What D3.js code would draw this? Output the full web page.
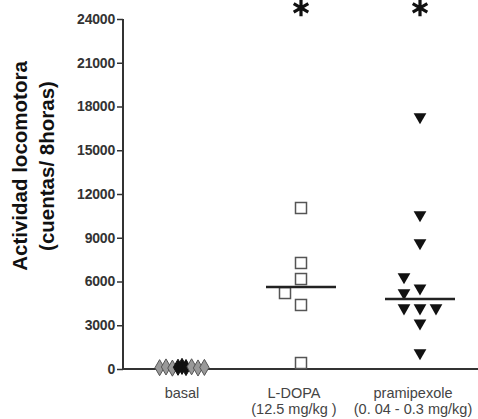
<!DOCTYPE html>
<html>
<head>
<meta charset="utf-8">
<script src="https://cdn.jsdelivr.net/npm/d3@7"></script>
<style>
  body { margin: 0; background: #fff; }
  svg { display: block; font-family: "Liberation Sans", Arial, sans-serif; }
</style>
</head>
<body>
<div id="chart"></div>
<script>
const groups = ["basal", "L-DOPA", "pramipexole"];
const groupLabels = [["basal"], ["L-DOPA", "(12.5 mg/kg )"], ["pramipexole", "(0. 04 - 0.3 mg/kg)"]];
const yTicks = [0, 3000, 6000, 9000, 12000, 15000, 18000, 21000, 24000];

// values per group, with the column slot GraphPad used (-1 left, 0 centre, 1 right)
const basalValues = [90, 140, 60, 120, 180, 100, 150, 70, 110];
const basalSlots = [-1.4, -1, -0.6, -0.25, 0, 0.25, 0.6, 1, 1.4];
const ldopaValues = [11040, 7270, 6170, 5210, 4390, 410];
const ldopaSlots = [0, 0, 0, -1, 0, 0];
const pramiValues = [17280, 10560, 8640, 6310, 5550, 5210, 4180, 4180, 4180, 3150, 1100];
const pramiSlots = [0, 0, 0, -1, 0, -1, -1, 0, 1, 0, 0];
const medians = [null, 5620, 4800];
const significant = [false, true, true];

const width = 478, height = 419;
const svg = d3.select("#chart").append("svg")
    .attr("width", width)
    .attr("height", height);

const y = d3.scaleLinear().domain([0, 24000]).range([369, 19]);
const x = d3.scalePoint().domain(groups).range([182, 420]);
const slotW = 16;

// axes
svg.append("line")
    .attr("x1", 123).attr("x2", width)
    .attr("y1", y(0)).attr("y2", y(0))
    .attr("stroke", "#333").attr("stroke-width", 2);

const yAxis = svg.append("g")
    .attr("transform", "translate(123,0)")
    .call(d3.axisLeft(y).tickValues(yTicks).tickSize(6).tickPadding(2).tickFormat(d3.format("d")));
yAxis.select(".domain").attr("stroke", "#333").attr("stroke-width", 2)
    .attr("d", `M0,${y(24000)}V${y(0)}`);
yAxis.selectAll(".tick line").attr("stroke", "#333").attr("stroke-width", 1.5);
yAxis.selectAll(".tick text")
    .attr("fill", "#333")
    .style("font-size", "14px")
    .style("font-weight", "bold")
    .attr("letter-spacing", "-0.2");

// y title
const yTitle = svg.append("text")
    .attr("transform", "translate(27,166) rotate(-90)")
    .attr("text-anchor", "middle")
    .style("font-size", "20.5px")
    .style("font-weight", "bold")
    .attr("fill", "#111");
yTitle.append("tspan").attr("x", 0).attr("dy", 0).text("Actividad locomotora");
yTitle.append("tspan").attr("x", 0).attr("dy", 27).text("(cuentas/ 8horas)");

// category labels
groupLabels.forEach((lines, i) => {
    const t = svg.append("text")
        .attr("text-anchor", "middle")
        .attr("fill", "#444")
        .style("font-size", "14.5px");
    lines.forEach((s, j) => {
        t.append("tspan")
            .attr("x", x(groups[i]) - (i ? 7 : 0))
            .attr("y", 398 + j * 16)
            .text(s);
    });
});

// basal markers
svg.append("g").selectAll("path")
    .data(basalValues.map((v, i) => ({ v, s: basalSlots[i], c: Math.abs(basalSlots[i]) < 0.3 })))
    .join("path")
    .attr("d", d3.symbol(d3.symbolDiamond, 75))
    .attr("transform", d => `translate(${x("basal") + d.s * slotW},${y(d.v)})`)
    .attr("fill", d => d.c ? "#111" : "#999")
    .attr("stroke", d => d.c ? "#111" : "#555")
    .attr("stroke-width", 1);

// L-DOPA open squares
svg.append("g").selectAll("rect")
    .data(ldopaValues.map((v, i) => ({ v, s: ldopaSlots[i] })))
    .join("rect")
    .attr("x", d => x("L-DOPA") + d.s * slotW - 5.5)
    .attr("y", d => y(d.v) - 5.5)
    .attr("width", 11).attr("height", 11)
    .attr("fill", "#fff")
    .attr("stroke", "#555")
    .attr("stroke-width", 1.5);

// pramipexole filled down triangles
const tri = d3.symbol(d3.symbolTriangle, 70)();
svg.append("g").selectAll("path")
    .data(pramiValues.map((v, i) => ({ v, s: pramiSlots[i] })))
    .join("path")
    .attr("d", tri)
    .attr("transform", d => `translate(${x("pramipexole") + d.s * slotW},${y(d.v)}) rotate(180)`)
    .attr("fill", "#111");

// median lines
svg.append("g").selectAll("line")
    .data(groups.map((g, i) => ({ g, m: medians[i] })).filter(d => d.m != null))
    .join("line")
    .attr("x1", d => x(d.g) - 35).attr("x2", d => x(d.g) + 35)
    .attr("y1", d => y(d.m)).attr("y2", d => y(d.m))
    .attr("stroke", "#222").attr("stroke-width", 2.5);

// significance asterisks
svg.append("g").selectAll("path")
    .data(groups.filter((g, i) => significant[i]))
    .join("path")
    .attr("d", d3.symbol(d3.symbolAsterisk, 200))
    .attr("transform", g => `translate(${x(g)},${y(24760)})`)
    .attr("fill", "none")
    .attr("stroke", "#111")
    .attr("stroke-width", 3.2);
</script>
</body>
</html>
